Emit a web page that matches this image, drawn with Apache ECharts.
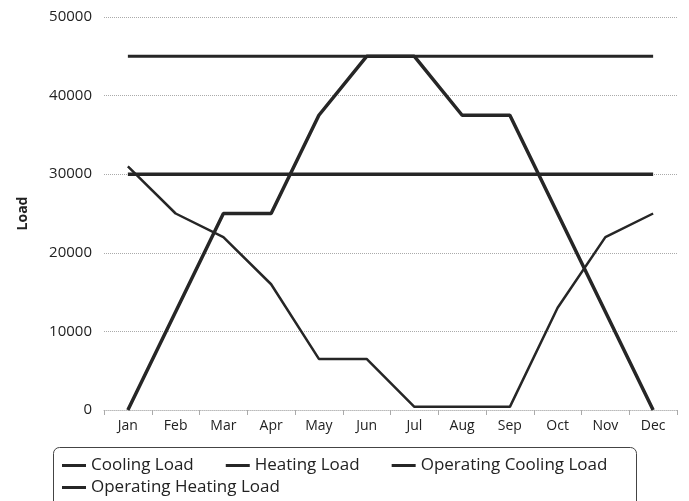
<!DOCTYPE html>
<html>
<head>
<meta charset="utf-8">
<script src="https://cdn.jsdelivr.net/npm/echarts@6/dist/echarts.min.js"></script>
<style>
  html, body { margin: 0; padding: 0; background: #fff; }
  #main { width: 689px; height: 501px; }
</style>
</head>
<body>
<div id="main"></div>
<script>
var months = ['Jan', 'Feb', 'Mar', 'Apr', 'May', 'Jun', 'Jul', 'Aug', 'Sep', 'Oct', 'Nov', 'Dec'];
var coolingLoad = [0, 12500, 25000, 25000, 37500, 45000, 45000, 37500, 37500, 25000, 12500, 0];
var heatingLoad = [31000, 25000, 22000, 16000, 6500, 6500, 400, 400, 400, 13000, 22000, 25000];
var operatingCooling = [45000, 45000, 45000, 45000, 45000, 45000, 45000, 45000, 45000, 45000, 45000, 45000];
var operatingHeating = [30000, 30000, 30000, 30000, 30000, 30000, 30000, 30000, 30000, 30000, 30000, 30000];

var myChart = echarts.init(document.getElementById('main'));
var font = 'Open Sans';

function lineSeries(name, data, width) {
    return {
        name: name,
        type: 'line',
        data: data,
        symbol: 'none',
        showSymbol: false,
        lineStyle: { color: '#262626', width: width },
        itemStyle: { color: '#262626' }
    };
}

// two legend rows inside one hand-drawn box
function legendRow(names, top) {
    return {
        left: 62,
        top: top,
        padding: 0,
        icon: 'rect',
        itemWidth: 24,
        itemHeight: 3,
        itemGap: 32,
        textStyle: { fontFamily: font, fontSize: 17, color: '#222' },
        data: names
    };
}

var option = {
    animation: false,
    grid: { left: 104, right: 12, top: 17, bottom: 91 },
    graphic: [{
        type: 'rect',
        shape: { x: 53.5, y: 447.5, width: 583, height: 60, r: 6 },
        style: { fill: 'none', stroke: '#444', lineWidth: 1 }
    }],
    legend: [
        legendRow(['Cooling Load', 'Heating Load', 'Operating Cooling Load'], 457),
        legendRow(['Operating Heating Load'], 479)
    ],
    xAxis: {
        type: 'category',
        data: months,
        boundaryGap: true,
        axisLine: { show: true, lineStyle: { color: '#bbb', type: 'dotted' } },
        axisTick: { show: true, length: 5, lineStyle: { color: '#aaa' } },
        axisLabel: { fontFamily: font, fontSize: 14, color: '#222', margin: 9 }
    },
    yAxis: {
        type: 'value',
        min: 0,
        max: 50000,
        interval: 10000,
        name: 'Load',
        nameLocation: 'middle',
        nameGap: 74,
        nameTextStyle: { fontFamily: font, fontSize: 14, fontWeight: 'bold', color: '#222' },
        axisLine: { show: false },
        axisTick: { show: false },
        axisLabel: { fontFamily: font, fontSize: 15, color: '#222', margin: 12, formatter: function (v) { return String(v); } },
        splitLine: { show: true, lineStyle: { color: '#aaa', type: 'dotted' } }
    },
    series: [
        lineSeries('Cooling Load', coolingLoad, 3.5),
        lineSeries('Heating Load', heatingLoad, 2.5),
        lineSeries('Operating Cooling Load', operatingCooling, 3),
        lineSeries('Operating Heating Load', operatingHeating, 3.5)
    ]
};
myChart.setOption(option);
</script>
</body>
</html>
